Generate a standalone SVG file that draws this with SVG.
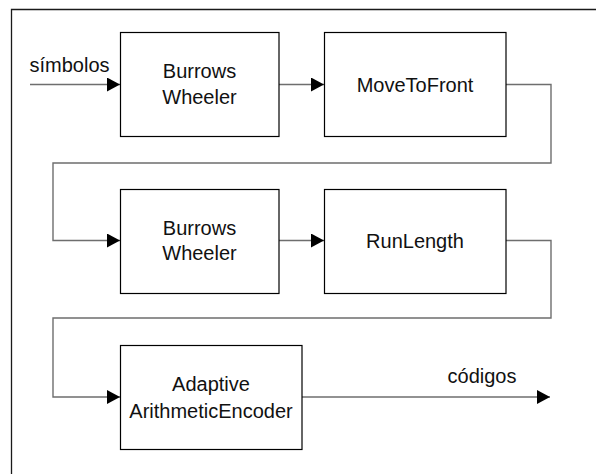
<svg xmlns="http://www.w3.org/2000/svg" width="596" height="474" viewBox="0 0 596 474">
  <style>
    .box { fill: #ffffff; stroke: #000000; stroke-width: 1.2; }
    .lbl { font-family: "Liberation Sans", Arial, sans-serif; font-size: 20px; fill: #111111; text-anchor: middle; }
    .flow { fill: none; stroke: #6e6e6e; stroke-width: 1.4; }
    .frame { fill: none; stroke: #1a1a1a; stroke-width: 1.3; }
  </style>
  <defs>
    <marker id="arrow" viewBox="0 0 13 14" refX="13" refY="7" markerWidth="13" markerHeight="14" markerUnits="userSpaceOnUse" orient="auto">
      <path d="M0,0 L13,7 L0,14 Z" fill="#000000"/>
    </marker>
  </defs>

  <rect width="596" height="474" fill="#ffffff"/>

  <!-- page frame (open on the right and bottom) -->
  <path class="frame" d="M11.5,474 V9.5 H596"/>

  <!-- connectors -->
  <g id="connectors">
    <path class="flow" d="M30,84.5 H120" marker-end="url(#arrow)"/>
    <path class="flow" d="M279,84.5 H324" marker-end="url(#arrow)"/>
    <path class="flow" d="M506,84.5 H551 V163 H53 V240.5 H120" marker-end="url(#arrow)"/>
    <path class="flow" d="M279,240.5 H324" marker-end="url(#arrow)"/>
    <path class="flow" d="M506,240.5 H551 V318 H53 V397 H120" marker-end="url(#arrow)"/>
    <path class="flow" d="M302,397 H550" marker-end="url(#arrow)"/>
    <text class="lbl" x="69.5" y="72" >símbolos</text>
    <text class="lbl" x="482" y="383">códigos</text>
  </g>

  <g id="bw1">
    <rect class="box" x="120.5" y="32.5" width="158.5" height="104"/>
    <text class="lbl" x="199.5" y="78">Burrows</text>
    <text class="lbl" x="199.5" y="103.5">Wheeler</text>
  </g>

  <g id="mtf">
    <rect class="box" x="324.5" y="32.5" width="181.5" height="104"/>
    <text class="lbl" x="415" y="91.5">MoveToFront</text>
  </g>

  <g id="bw2">
    <rect class="box" x="120.5" y="189.5" width="158.5" height="104"/>
    <text class="lbl" x="199.5" y="234.5">Burrows</text>
    <text class="lbl" x="199.5" y="260">Wheeler</text>
  </g>

  <g id="rle">
    <rect class="box" x="324.5" y="189.5" width="181.5" height="104"/>
    <text class="lbl" x="415" y="248">RunLength</text>
  </g>

  <g id="aae">
    <rect class="box" x="120.5" y="345.5" width="181.5" height="104"/>
    <text class="lbl" x="211" y="391">Adaptive</text>
    <text class="lbl" x="211" y="418">ArithmeticEncoder</text>
  </g>
</svg>
